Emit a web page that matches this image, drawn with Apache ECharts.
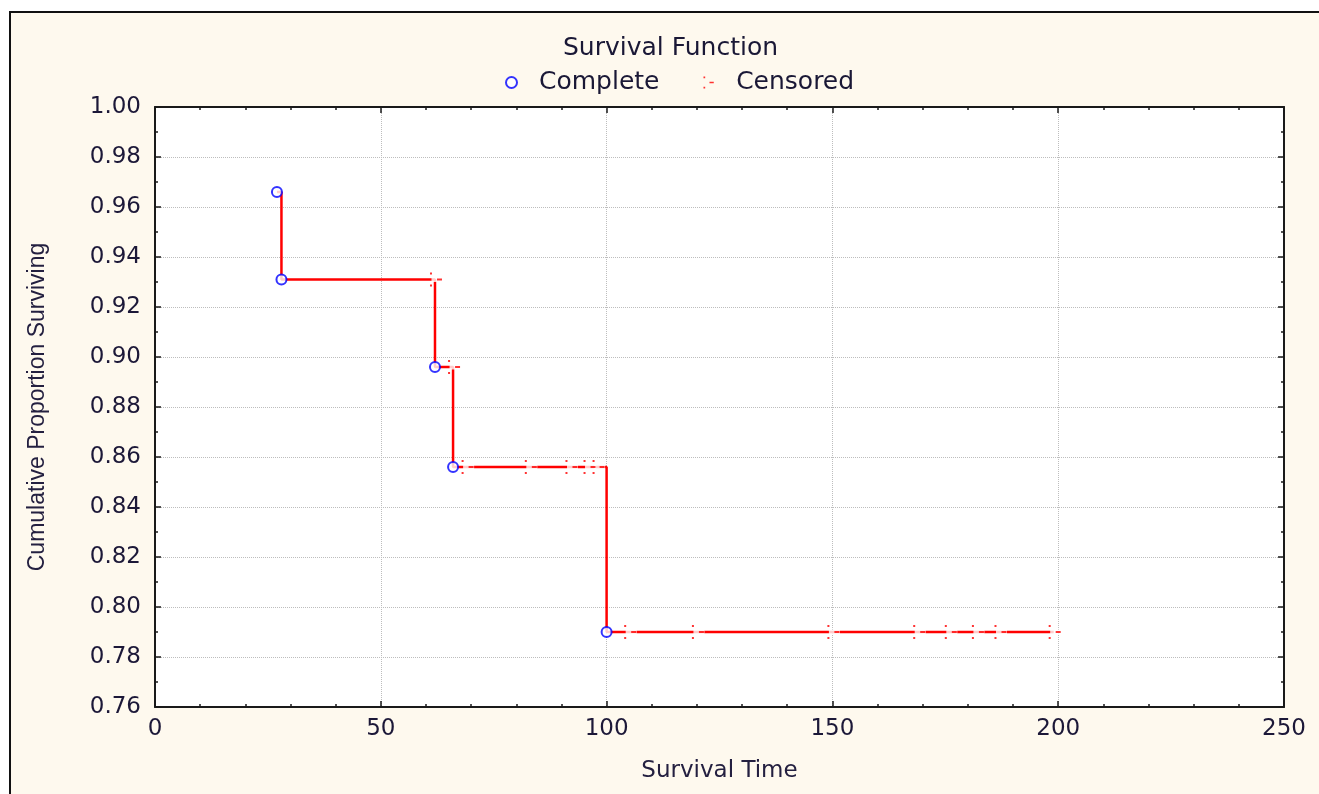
<!DOCTYPE html>
<html>
<head>
<meta charset="utf-8">
<title>Survival Function</title>
<script src="https://cdn.jsdelivr.net/npm/echarts@6/dist/echarts.min.js"></script>
<style>
html, body { margin: 0; padding: 0; background: #ffffff; }
#main { width: 1319px; height: 794px; }
</style>
</head>
<body>
<div id="main"></div>
<script>
// complete (event) times and the survival level right after them
var completeTimes = [27, 28, 62, 66, 100];
var completeSurv = [0.966, 0.931, 0.896, 0.856, 0.790];

// censored observations (time, level of the curve at that time)
var censoredTimes = [62, 66, 69, 83, 92, 96, 98, 105, 120, 150, 169, 176, 182, 187, 199];
var censoredSurv = [0.931, 0.896, 0.856, 0.856, 0.856, 0.856, 0.856,
	0.790, 0.790, 0.790, 0.790, 0.790, 0.790, 0.790, 0.790];

// step curve end (last follow-up time)
var lastTime = 199;

var xTicks = [0, 50, 100, 150, 200, 250];
var yTicks = [0.76, 0.78, 0.80, 0.82, 0.84, 0.86, 0.88, 0.90, 0.92, 0.94, 0.96, 0.98, 1.00];

var font = 'DejaVu Sans';
var textColor = '#1c1838';

var stepData = [];
for (var i = 0; i < completeTimes.length; i++) {
	stepData.push([completeTimes[i], completeSurv[i]]);
}
stepData.push([lastTime, completeSurv[completeSurv.length - 1]]);

var completeData = [];
for (var i = 0; i < completeTimes.length; i++) {
	completeData.push([completeTimes[i], completeSurv[i]]);
}
var censoredData = [];
for (var i = 0; i < censoredTimes.length; i++) {
	censoredData.push([censoredTimes[i], censoredSurv[i]]);
}

// ":-" censored mark
var censorPath = 'path://M0,0L2,0L2,2L0,2Z M0,12L2,12L2,14L0,14Z M7,6L12,6L12,8L7,8Z';

function axisCommon(pos, showLabel) {
	return {
		type: 'value',
		position: pos,
		axisLine: { show: true, onZero: false, lineStyle: { color: '#1a1a1a', width: 2 } },
		axisTick: { show: true, inside: true, length: 6, lineStyle: { color: '#1a1a1a', width: 1.5 } },
		minorTick: { show: true, length: 3, lineStyle: { color: '#1a1a1a', width: 1.5 } },
		axisLabel: { show: showLabel },
		splitLine: { show: false }
	};
}

var xMain = axisCommon('bottom', true);
xMain.min = xTicks[0];
xMain.max = xTicks[xTicks.length - 1];
xMain.interval = xTicks[1] - xTicks[0];
xMain.minorTick.splitNumber = 5;
xMain.axisLabel = { show: true, fontFamily: font, fontSize: 23, color: textColor, margin: 11 };
xMain.splitLine = { show: true, lineStyle: { color: '#bdbdbd', type: 'dotted', width: 1 } };
xMain.name = 'Survival Time';
xMain.nameLocation = 'middle';
xMain.nameGap = 53;
xMain.nameTextStyle = { fontFamily: font, fontSize: 23, color: '#242040' };

var xTop = axisCommon('top', false);
xTop.min = xMain.min;
xTop.max = xMain.max;
xTop.interval = xMain.interval;
xTop.minorTick.splitNumber = 5;

var yMain = axisCommon('left', true);
yMain.min = yTicks[0];
yMain.max = yTicks[yTicks.length - 1];
yMain.interval = 0.02;
yMain.minorTick.splitNumber = 2;
yMain.axisLabel = {
	show: true, fontFamily: font, fontSize: 23, color: textColor, margin: 14,
	formatter: function (v) { return v.toFixed(2); }
};
yMain.splitLine = { show: true, lineStyle: { color: '#bdbdbd', type: 'dotted', width: 1 } };
yMain.name = 'Cumulative Proportion Surviving';
yMain.nameLocation = 'middle';
yMain.nameGap = 106;
yMain.nameTextStyle = { fontFamily: 'Liberation Sans', fontSize: 23, color: '#242040' };

var yRight = axisCommon('right', false);
yRight.min = yMain.min;
yRight.max = yMain.max;
yRight.interval = yMain.interval;
yRight.minorTick.splitNumber = 2;

var myChart = echarts.init(document.getElementById('main'));
var option = {
	animation: false,
	backgroundColor: '#ffffff',
	graphic: [{
		type: 'rect',
		z: -10,
		shape: { x: 10, y: 12, width: 1340, height: 820 },
		style: { fill: '#fef9ee', stroke: '#111111', lineWidth: 2 }
	}],
	title: {
		text: 'Survival Function',
		left: 558,
		top: 31,
		textStyle: { fontFamily: font, fontSize: 25, fontWeight: 'normal', color: '#1a1836' }
	},
	legend: {
		data: ['Complete', 'Censored'],
		left: 500,
		top: 65,
		itemWidth: 11,
		itemHeight: 12,
		itemGap: 44,
		textStyle: { fontFamily: font, fontSize: 25, color: '#1a1836', padding: [0, 0, 0, 17] }
	},
	grid: {
		left: 155,
		top: 107,
		width: 1129,
		height: 600,
		show: true,
		backgroundColor: '#ffffff',
		borderWidth: 0,
		containLabel: false
	},
	xAxis: [xMain, xTop],
	yAxis: [yMain, yRight],
	series: [{
		name: 'curve',
		type: 'line',
		step: 'end',
		data: stepData,
		symbol: 'none',
		z: 2,
		lineStyle: { color: '#ff0000', width: 2.5 },
		tooltip: { show: false }
	}, {
		name: 'gap',
		type: 'scatter',
		data: censoredData,
		symbol: 'rect',
		symbolSize: [11, 5],
		symbolOffset: [2, 0],
		z: 3,
		itemStyle: { color: '#ffffff' },
		silent: true
	}, {
		name: 'Censored',
		type: 'scatter',
		data: censoredData,
		symbol: censorPath,
		symbolSize: [12, 14],
		symbolOffset: [1, 0],
		z: 4,
		itemStyle: { color: '#ff0000' }
	}, {
		name: 'Complete',
		type: 'scatter',
		data: completeData,
		symbol: 'emptyCircle',
		symbolSize: 10,
		z: 5,
		itemStyle: { color: '#0000ff', borderColor: '#0000ff', borderWidth: 2.5 }
	}]
};
myChart.setOption(option);
</script>
</body>
</html>
